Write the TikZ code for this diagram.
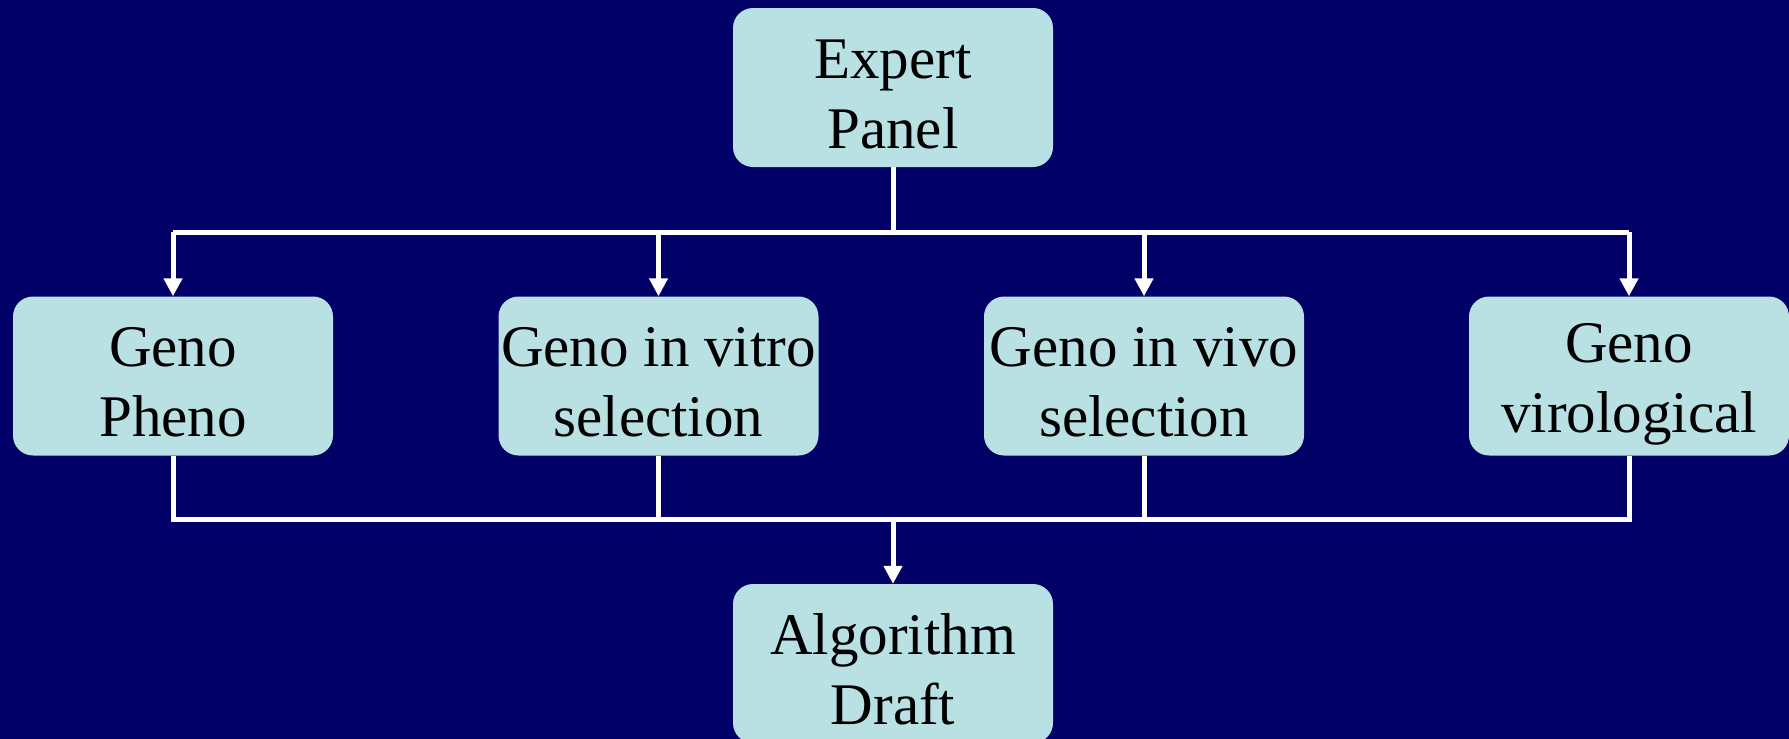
\documentclass[tikz,border=0pt]{standalone}
\usepackage{fontspec}
\setmainfont{Liberation Serif}
\usetikzlibrary{arrows.meta}
\definecolor{bgnavy}{RGB}{0,0,102}
\definecolor{boxcyan}{RGB}{185,224,227}
\newcommand{\twolines}[2]{\rule{0pt}{56pt}#1\\#2\rule[-5pt]{0pt}{5pt}}
\begin{document}
\begin{tikzpicture}[x=1pt,y=-1pt,
  box/.style={fill=boxcyan, rounded corners=20pt, minimum width=320pt, minimum height=159pt,
    inner sep=0pt, align=center, font=\fontsize{59}{70}\selectfont, text=black},
  conn/.style={draw=white, line width=5pt, line join=miter},
  arr/.style={conn, -{Triangle[width=18pt,length=18pt]}}]
\useasboundingbox (0,0) rectangle (1789,739);
\clip (0,0) rectangle (1789,739);
\fill[bgnavy] (0,0) rectangle (1789,739);
\node[box] (ep) at (893,87.5) {\twolines{Expert}{Panel}};
\node[box] (gp) at (173,376) {\twolines{Geno}{Pheno}};
\node[box] (gt) at (658.5,376) {\twolines{Geno in vitro}{selection}};
\node[box] (gi) at (1144,376) {\twolines{Geno in vivo}{selection}};
\node[box] (gv) at (1629,376) {\twolines{Geno}{virological}};
\node[box] (ad) at (893,663.5) {\twolines{Algorithm}{Draft}};
\coordinate (tb) at (893,232);
\coordinate (bb) at (893,519);
\draw[conn] (ep.south) -- (tb);
\draw[conn] (gp.north |- tb) -- (gv.north |- tb);
\foreach \n in {gp,gt,gi,gv} {
  \draw[arr] (\n.north |- tb) -- (\n.north);
}
\draw[conn] (gp.south) -- (gp.south |- bb) -- (gv.south |- bb) -- (gv.south);
\draw[conn] (gt.south) -- (gt.south |- bb);
\draw[conn] (gi.south) -- (gi.south |- bb);
\draw[arr] (bb) -- (ad.north);
\end{tikzpicture}
\end{document}
